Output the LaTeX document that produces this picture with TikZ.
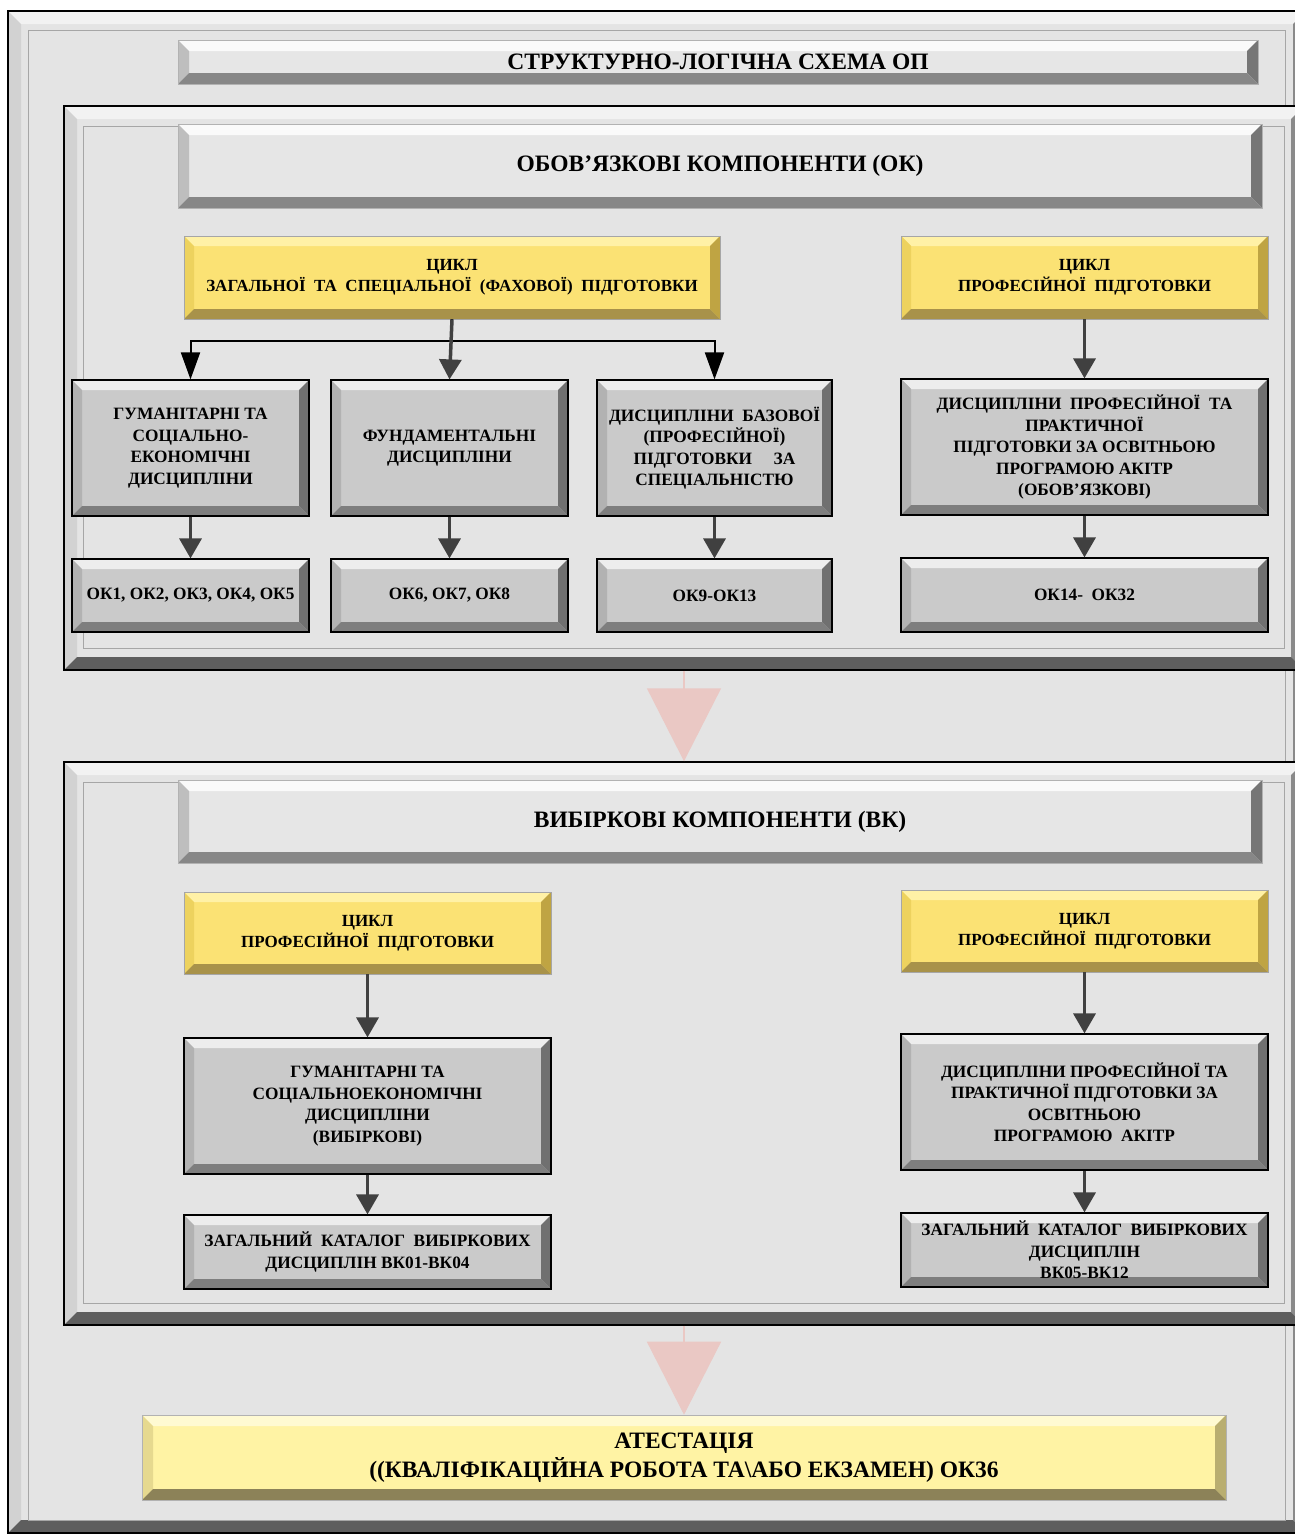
\documentclass[tikz,border=0pt]{standalone}
\usepackage{fontspec}
\setmainfont{Liberation Serif}
\usetikzlibrary{arrows.meta,positioning}

\definecolor{bg}{HTML}{E4E4E4}
\definecolor{frtop}{HTML}{F2F2F2}
\definecolor{frleft}{HTML}{D2D2D2}
\definecolor{frright}{HTML}{8A8A8A}
\definecolor{frbot}{HTML}{5E5E5E}
\definecolor{gbface}{HTML}{CACACA}
\definecolor{gbtop}{HTML}{EDEDED}
\definecolor{gbleft}{HTML}{B2B2B2}
\definecolor{gbright}{HTML}{707070}
\definecolor{gbbot}{HTML}{7E7E7E}
\definecolor{hdface}{HTML}{E6E6E6}
\definecolor{hdtop}{HTML}{FAFAFA}
\definecolor{hdleft}{HTML}{BEBEBE}
\definecolor{hdright}{HTML}{767676}
\definecolor{hdbot}{HTML}{878787}
\definecolor{ylface}{HTML}{FBE274}
\definecolor{yltop}{HTML}{FFF1A6}
\definecolor{ylleft}{HTML}{EDD25E}
\definecolor{ylright}{HTML}{BFA443}
\definecolor{ylbot}{HTML}{A8924A}
\definecolor{atface}{HTML}{FFF3A4}
\definecolor{attop}{HTML}{FFFAD2}
\definecolor{atleft}{HTML}{E6D98F}
\definecolor{atright}{HTML}{B9AE70}
\definecolor{atbot}{HTML}{8C8258}
\definecolor{arrowgray}{HTML}{404040}
\definecolor{pinkarr}{HTML}{EAC8C4}

\begin{document}
\begin{tikzpicture}[x=1pt,y=-1pt,
  bevel/.style n args={6}{fill=#1, path picture={
    \fill[#2] (path picture bounding box.north west) -- (path picture bounding box.north east)
      -- ([xshift=-#6,yshift=-#6]path picture bounding box.north east)
      -- ([xshift=#6,yshift=-#6]path picture bounding box.north west) -- cycle;
    \fill[#3] (path picture bounding box.north west) -- (path picture bounding box.south west)
      -- ([xshift=#6,yshift=#6]path picture bounding box.south west)
      -- ([xshift=#6,yshift=-#6]path picture bounding box.north west) -- cycle;
    \fill[#4] (path picture bounding box.north east) -- (path picture bounding box.south east)
      -- ([xshift=-#6,yshift=#6]path picture bounding box.south east)
      -- ([xshift=-#6,yshift=-#6]path picture bounding box.north east) -- cycle;
    \fill[#5] (path picture bounding box.south west) -- (path picture bounding box.south east)
      -- ([xshift=-#6,yshift=#6]path picture bounding box.south east)
      -- ([xshift=#6,yshift=#6]path picture bounding box.south west) -- cycle;
  }},
  framebox/.style={bevel={bg}{frtop}{frleft}{frright}{frbot}{13pt}, draw=black, line width=1.5pt},
  frameline/.style={draw=gray!70, line width=0.8pt},
  headbox/.style={bevel={hdface}{hdtop}{hdleft}{hdright}{hdbot}{11pt}, draw=gray!60, line width=0.6pt,
    font=\bfseries\fontsize{23.5}{27}\selectfont, align=center},
  cyclebox/.style={bevel={ylface}{yltop}{ylleft}{ylright}{ylbot}{10pt}, draw=gray!70, line width=0.6pt,
    font=\bfseries\fontsize{17}{21}\selectfont, align=center},
  graybox/.style={bevel={gbface}{gbtop}{gbleft}{gbright}{gbbot}{10pt}, draw=black, line width=1.2pt,
    font=\bfseries\fontsize{17.3}{21.5}\selectfont, align=center},
  attbox/.style={bevel={atface}{attop}{atleft}{atright}{atbot}{11pt}, draw=gray!60, line width=0.6pt,
    font=\bfseries\fontsize{23.5}{29}\selectfont, align=center},
  flow/.style={draw=arrowgray, line width=3.5pt, -{Triangle[width=22pt,length=20pt]}},
  split/.style={draw=black, line width=2pt, -{Triangle[width=19pt,length=27pt]}},
  bigdown/.style={draw=pinkarr, line width=1.5pt, -{Triangle[width=74pt,length=73pt]}}]

\useasboundingbox (0,0) rectangle (1295,1535);
\clip (0,0) rectangle (1295,1535);

% frames
\node (outer) [framebox, minimum width=1298pt, minimum height=1522pt] at (657,772) {};
\draw[frameline] ([xshift=21pt,yshift=-20pt]outer.north west) rectangle ([xshift=-21pt,yshift=13pt]outer.south east);
\node (okframe) [framebox, minimum width=1240pt, minimum height=564pt] at (684,388) {};
\draw[frameline] ([xshift=20pt,yshift=-21pt]okframe.north west) rectangle ([xshift=-20pt,yshift=22pt]okframe.south east);
\node (vkframe) [framebox, minimum width=1240pt, minimum height=563pt] at (684,1043.5) {};
\draw[frameline] ([xshift=20pt,yshift=-21pt]vkframe.north west) rectangle ([xshift=-20pt,yshift=22pt]vkframe.south east);

\node (title) [headbox, minimum width=1080pt, minimum height=44pt] at (718,62) {СТРУКТУРНО-ЛОГІЧНА СХЕМА ОП};

% obov'yazkovi
\node (okhead) [headbox, minimum width=1084pt, minimum height=84pt] at (720,166) {ОБОВ’ЯЗКОВІ КОМПОНЕНТИ (ОК)};
\node (cycgen) [cyclebox, minimum width=536pt, minimum height=83pt] at (452,277.5) {ЦИКЛ\\ЗАГАЛЬНОЇ \ ТА \ СПЕЦІАЛЬНОЇ \ (ФАХОВОЇ) \ ПІДГОТОВКИ};
\node (cycprof) [cyclebox, minimum width=367pt, minimum height=83pt] at (1084.5,277.5) {ЦИКЛ\\ПРОФЕСІЙНОЇ \ ПІДГОТОВКИ};

\node (hum) [graybox, minimum width=237pt, minimum height=136pt] at (190.5,448) {ГУМАНІТАРНІ ТА\\СОЦІАЛЬНО-\\ЕКОНОМІЧНІ\\ДИСЦИПЛІНИ};
\node (fund) [graybox, minimum width=237pt, minimum height=136pt] at (449.5,448) {ФУНДАМЕНТАЛЬНІ\\ДИСЦИПЛІНИ};
\node (base) [graybox, minimum width=235pt, minimum height=136pt] at (714.5,448) {ДИСЦИПЛІНИ \ БАЗОВОЇ\\(ПРОФЕСІЙНОЇ)\\ПІДГОТОВКИ \quad ЗА\\СПЕЦІАЛЬНІСТЮ};
\node (prof) [graybox, minimum width=367pt, minimum height=136pt] at (1084.5,447) {ДИСЦИПЛІНИ \ ПРОФЕСІЙНОЇ \ ТА\\ПРАКТИЧНОЇ\\ПІДГОТОВКИ ЗА ОСВІТНЬОЮ\\ПРОГРАМОЮ АКІТР\\(ОБОВ’ЯЗКОВІ)};

\node (ok15) [graybox, minimum width=237pt, minimum height=73pt] at (190.5,595.5) {ОК1, ОК2, ОК3, ОК4, ОК5};
\node (ok68) [graybox, minimum width=237pt, minimum height=73pt] at (449.5,595.5) {ОК6, ОК7, ОК8};
\node (ok913) [graybox, minimum width=235pt, minimum height=73pt] at (714.5,595.5) {ОК9-ОК13};
\node (ok1432) [graybox, minimum width=367pt, minimum height=74pt] at (1084.5,595) {ОК14- \ ОК32};

\draw[split] (cycgen.south) -- ++(0,22) -| (hum.north);
\draw[split] (cycgen.south) -- ++(0,22) -| (base.north);
\draw[flow] (cycgen.south) -- (fund.north);
\draw[flow] (cycprof) -- (prof);
\draw[flow] (hum) -- (ok15);
\draw[flow] (fund) -- (ok68);
\draw[flow] (base) -- (ok913);
\draw[flow] (prof) -- (ok1432);

% vybirkovi
\node (vkhead) [headbox, minimum width=1084pt, minimum height=83pt] at (720,821.5) {ВИБІРКОВІ КОМПОНЕНТИ (ВК)};
\node (vcyc1) [cyclebox, minimum width=367pt, minimum height=82pt] at (367.5,933) {ЦИКЛ\\ПРОФЕСІЙНОЇ \ ПІДГОТОВКИ};
\node (vcyc2) [cyclebox, minimum width=367pt, minimum height=82pt] at (1084.5,931) {ЦИКЛ\\ПРОФЕСІЙНОЇ \ ПІДГОТОВКИ};
\node (vhum) [graybox, minimum width=367pt, minimum height=136pt] at (367.5,1106) {ГУМАНІТАРНІ ТА\\СОЦІАЛЬНОЕКОНОМІЧНІ\\ДИСЦИПЛІНИ\\(ВИБІРКОВІ)};
\node (vprof) [graybox, minimum width=367pt, minimum height=136pt] at (1084.5,1102) {ДИСЦИПЛІНИ ПРОФЕСІЙНОЇ ТА\\ПРАКТИЧНОЇ ПІДГОТОВКИ ЗА\\ОСВІТНЬОЮ\\ПРОГРАМОЮ \ АКІТР};
\node (vcat1) [graybox, minimum width=367pt, minimum height=74pt] at (367.5,1252) {ЗАГАЛЬНИЙ \ КАТАЛОГ \ ВИБІРКОВИХ\\ДИСЦИПЛІН ВК01-ВК04};
\node (vcat2) [graybox, minimum width=367pt, minimum height=74pt] at (1084.5,1250) {ЗАГАЛЬНИЙ \ КАТАЛОГ \ ВИБІРКОВИХ\\ДИСЦИПЛІН\\ВК05-ВК12};

\draw[flow] (vcyc1) -- (vhum);
\draw[flow] (vhum) -- (vcat1);
\draw[flow] (vcyc2) -- (vprof);
\draw[flow] (vprof) -- (vcat2);

\node (attest) [attbox, minimum width=1084pt, minimum height=85pt] at (684,1457.5) {АТЕСТАЦІЯ\\((КВАЛІФІКАЦІЙНА РОБОТА ТА\textbackslash АБО ЕКЗАМЕН) ОК36};

\draw[bigdown] (okframe) -- (vkframe);
\draw[bigdown] (vkframe) -- (attest);

\end{tikzpicture}
\end{document}
